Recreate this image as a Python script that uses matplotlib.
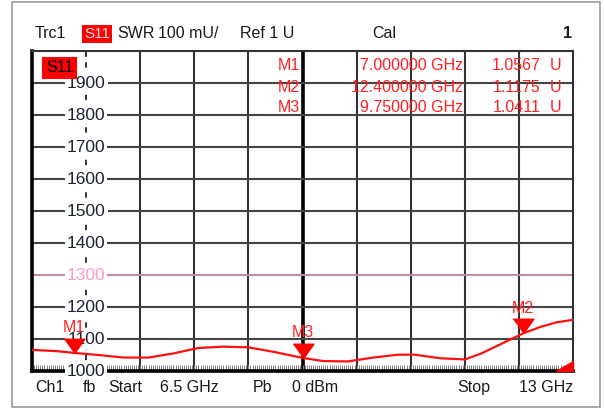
import matplotlib.pyplot as plt
from matplotlib.patches import Rectangle, Polygon
from matplotlib.ticker import MultipleLocator
import matplotlib.transforms as mtransforms

plt.rcParams['font.family'] = ['Liberation Sans', 'DejaVu Sans']

# trace data (GHz, SWR in mU)
freq = [6.5, 6.8, 7.0, 7.3, 7.6, 7.9, 8.2, 8.5, 8.8, 9.1, 9.4, 9.75, 10.0, 10.3,
        10.6, 10.9, 11.1, 11.4, 11.7, 11.9, 12.1, 12.4, 12.6, 12.8, 13.0]
swr = [1066, 1062, 1056.7, 1050, 1042, 1042, 1055, 1072, 1076, 1074, 1060, 1041,
       1031, 1030, 1042, 1051, 1051, 1040, 1036, 1055, 1080, 1117.5, 1137, 1152, 1160]

marker_names = ['M1', 'M2', 'M3']
marker_freq = [7.0, 12.4, 9.75]
marker_val = [1056.7, 1117.5, 1041.1]
marker_freq_txt = ['7.000000 GHz', '12.400000 GHz', '9.750000 GHz']
marker_val_txt = ['1.0567', '1.1175', '1.0411']

y_ticks = [1000, 1100, 1200, 1300, 1400, 1500, 1600, 1700, 1800, 1900]

W, H = 605, 411
fig = plt.figure(figsize=(W / 100, H / 100), dpi=100)


def fx(px):
    return px / W


def fy(py):
    return 1 - py / H


# outer frame
fig.patches.append(Rectangle((fx(12), fy(407)), fx(588), 405 / H, transform=fig.transFigure,
                             fill=False, edgecolor='#9a9a9a', lw=1.2))

ax = fig.add_axes([fx(32), fy(371), fx(541), 320 / H])
ax.set_xlim(6.5, 13)
ax.set_ylim(1000, 2000)

# grid
for k in range(1, 10):
    xv = 6.5 + 0.65 * k
    if k == 1:
        ax.axvline(xv, color='#222222', lw=1.3, ls=(0, (3, 3)), zorder=1)
    elif k == 5:
        ax.axvline(xv, color='black', lw=2.6, zorder=1)
    else:
        ax.axvline(xv, color='#333333', lw=1.5, zorder=1)
for v in range(1100, 2000, 100):
    if v == 1300:
        ax.axhline(v, color='#c68aa8', lw=1.5, zorder=1)
    else:
        ax.axhline(v, color='#444444', lw=1.5, zorder=1)

for side in ['top', 'right']:
    ax.spines[side].set_color('#333333')
    ax.spines[side].set_linewidth(1.5)
for side in ['left', 'bottom']:
    ax.spines[side].set_color('black')
    ax.spines[side].set_linewidth(2.6)

ax.set_xticks([])
ax.set_yticks([])
ax.xaxis.set_minor_locator(MultipleLocator(6.5 / 260))
ax.tick_params(axis='x', which='minor', direction='in', length=4, width=0.7,
               color='#808080', labelbottom=False)

# tick labels in the second column
for v in y_ticks:
    col = '#ff99cc' if v == 1300 else '#1c2433'
    ax.text(7.15, v, str(v), ha='center', va='center', fontsize=12.5, color=col, zorder=3,
            bbox=dict(facecolor='white', edgecolor='none', pad=1.5))

# trace
ax.plot(freq, swr, color='#ff1010', lw=1.6, zorder=4)

# markers
tri = mtransforms.offset_copy(ax.transData, fig=fig, x=0, y=7, units='dots')
lab = mtransforms.offset_copy(ax.transData, fig=fig, x=0, y=25, units='dots')
for name, f, v in zip(marker_names, marker_freq, marker_val):
    ax.plot(f, v, marker=[(-10, 7), (10, 7), (0, -7)], markersize=15, color='#ff0000',
            transform=tri, zorder=5, clip_on=False)
    ax.text(f, v, name, transform=lab, ha='center', va='center', color='#ff2020',
            fontsize=11.5, zorder=5)

# red wedge bottom right
ax.add_patch(Polygon([(0.969, 0), (1, 0), (1, 0.03)], closed=True, transform=ax.transAxes,
                     color='#ff0000', zorder=6, clip_on=False))

# marker table
for i in range(3):
    yy = fy(66 + 21 * i)
    fig.text(fx(278), yy, marker_names[i], color='#ff2020', fontsize=11.5, va='center')
    fig.text(fx(463), yy, marker_freq_txt[i], color='#ff2020', fontsize=11.5,
             va='center', ha='right')
    fig.text(fx(541), yy, marker_val_txt[i], color='#ff2020', fontsize=11.5,
             va='center', ha='right')
    fig.text(fx(550), yy, 'U', color='#ff2020', fontsize=11.5, va='center')

# S11 tag inside plot
fig.text(fx(46), fy(68), 'S11', color='black', fontsize=11.5, va='center',
         bbox=dict(facecolor='#ff0000', edgecolor='none', pad=2.5))

# header line
hy = fy(34)
fig.text(fx(35), hy, 'Trc1', fontsize=11.5, va='center', color='#1a1a1a')
fig.text(fx(84), hy, 'S11', fontsize=11, va='center', color='#ffe0e8',
         bbox=dict(facecolor='#ff0000', edgecolor='none', pad=1.5))
fig.text(fx(117), hy, 'SWR', fontsize=11.5, va='center', color='#1a1a1a')
fig.text(fx(158), hy, '100 mU/', fontsize=11.5, va='center', color='#1a1a1a')
fig.text(fx(240), hy, 'Ref 1 U', fontsize=11.5, va='center', color='#1a1a1a')
fig.text(fx(372), hy, 'Cal', fontsize=11.5, va='center', color='#1a1a1a')
fig.text(fx(572), hy, '1', fontsize=11.5, va='center', ha='right', color='#1a1a1a',
         fontweight='bold')

# footer line
by = fy(387)
fig.text(fx(35), by, 'Ch1', fontsize=11.5, va='center', color='#1a1a1a')
fig.text(fx(83), by, 'fb', fontsize=11.5, va='center', color='#1a1a1a')
fig.text(fx(108), by, 'Start', fontsize=11.5, va='center', color='#1a1a1a')
fig.text(fx(160), by, '6.5 GHz', fontsize=11.5, va='center', color='#1a1a1a')
fig.text(fx(253), by, 'Pb', fontsize=11.5, va='center', color='#1a1a1a')
fig.text(fx(292), by, '0 dBm', fontsize=11.5, va='center', color='#1a1a1a')
fig.text(fx(457), by, 'Stop', fontsize=11.5, va='center', color='#1a1a1a')
fig.text(fx(573), by, '13 GHz', fontsize=11.5, va='center', ha='right', color='#1a1a1a')

fig.savefig('out.png', dpi=100)
